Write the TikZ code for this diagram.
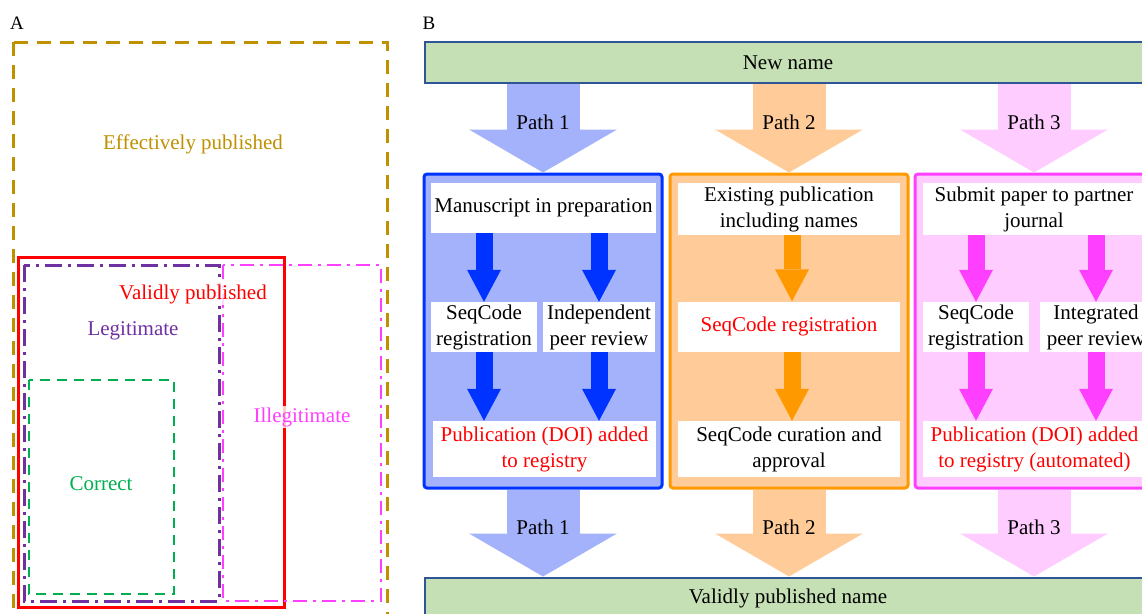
\documentclass[tikz,border=0pt]{standalone}
\usepackage{fontspec}
\setmainfont{Liberation Serif}
\usepackage{xcolor}
\usetikzlibrary{arrows.meta,positioning,calc}
\definecolor{effgold}{HTML}{BF9000}
\definecolor{validred}{HTML}{FF0000}
\definecolor{legitpurple}{HTML}{7030A0}
\definecolor{illegpink}{HTML}{FF3FFF}
\definecolor{correctgreen}{HTML}{00B050}
\definecolor{barblue}{HTML}{2F5597}
\definecolor{bargreen}{HTML}{C5E0B4}
\definecolor{pathblue}{HTML}{0033FF}
\definecolor{softblue}{HTML}{A3B2FA}
\definecolor{pathorange}{HTML}{FF9900}
\definecolor{softorange}{HTML}{FFCC99}
\definecolor{pathpink}{HTML}{FF3FFF}
\definecolor{softpink}{HTML}{FFCCFF}
\tikzset{
    every picture/.style={line join=miter},
    arealine/.style={line width=3pt},
    effarea/.style={arealine,draw=effgold,dash pattern=on 14pt off 9pt},
    validarea/.style={arealine,draw=validred},
    legitarea/.style={arealine,draw=legitpurple,dash pattern=on 17pt off 6pt on 3pt off 6pt},
    illegarea/.style={line width=2.5pt,draw=illegpink,dash pattern=on 14pt off 6pt on 3pt off 6pt},
    correctarea/.style={line width=2.5pt,draw=correctgreen,dash pattern=on 10pt off 7pt},
    arealabel/.style={fill=white,fill opacity=0.8,text opacity=1,inner sep=1pt},
    panelletter/.style={font=\fontsize{19}{21}\selectfont,inner sep=0pt},
    namebar/.style={draw=barblue,fill=bargreen,line width=2pt,
      minimum width=726pt,minimum height=41pt,inner sep=0pt,outer sep=1pt},
    pathbox/.style={line width=3pt,rounded corners=3pt,
      minimum width=238pt,minimum height=314pt,inner sep=0pt},
    stepbox/.style={fill=white,inner sep=1pt,align=center,minimum height=50pt},
    bigarrow/.style={line width=73pt,line cap=butt,
      -{Triangle[length=43pt,width=148pt,line width=0pt]}},
    smallarrow/.style={line width=17pt,line cap=butt,
      -{Triangle[length=32pt,width=34pt,line width=0pt]}},
    pathlabel/.style={text=black,inner sep=0pt}
}
\begin{document}
\begin{tikzpicture}[x=1pt,y=-1pt,font=\fontsize{21}{26}\selectfont]
  \useasboundingbox (0,0) rectangle (1142,613);
  \clip (0,0) rectangle (1142,613);
  % panel A
  \node[panelletter] (labelA) at (17,23) {A};
  \draw[effarea] (13,42) rectangle (387,630);
  \draw[validarea] (18,257) rectangle (284,607);
  \draw[legitarea] (24,265) rectangle (219,601);
  \draw[illegarea] (223,265) rectangle (381,601);
  \draw[correctarea] (29,380) rectangle (174,594);
  \node[arealabel,text=effgold] (efflabel) at (193,144) {Effectively published};
  \node[arealabel,text=validred] (validlabel) at (193,294) {Validly published};
  \node[arealabel,text=legitpurple] (legitlabel) at (133,331) {Legitimate};
  \node[arealabel,text=illegpink] (illeglabel) at (302,417) {Illegitimate};
  \node[arealabel,text=correctgreen] (correctlabel) at (101,484) {Correct};
  % panel B
  \node[panelletter] (labelB) at (429,23) {B};
  \node[namebar] (newname) at (788,62.5) {New name};
  \node[pathbox,draw=pathblue,fill=softblue] (path1) at (543,331) {};
  \node[pathbox,draw=pathorange,fill=softorange] (path2) at (789,331) {};
  \node[pathbox,draw=pathpink,fill=softpink] (path3) at (1034,331) {};
  \node[namebar] (validname) at (788,598) {Validly published name};
  \draw[bigarrow,softblue] (newname.south -| path1.north) -- node[pathlabel,pos=0.43] (p1in) {Path 1} (path1.north);
  \draw[bigarrow,softorange] (newname.south -| path2.north) -- node[pathlabel,pos=0.43] (p2in) {Path 2} (path2.north);
  \draw[bigarrow,softpink] (newname.south -| path3.north) -- node[pathlabel,pos=0.43] (p3in) {Path 3} (path3.north);
  \draw[bigarrow,softblue] (path1.south) -- node[pathlabel,pos=0.43] (p1out) {Path 1} (validname.north -| path1.south);
  \draw[bigarrow,softorange] (path2.south) -- node[pathlabel,pos=0.43] (p2out) {Path 2} (validname.north -| path2.south);
  \draw[bigarrow,softpink] (path3.south) -- node[pathlabel,pos=0.43] (p3out) {Path 3} (validname.north -| path3.south);
  % path 1
  \node[stepbox,minimum width=225pt] (m1) at (543.5,208) {Manuscript in preparation};
  \node[stepbox,minimum width=106pt] (s1) at (484,327) {SeqCode\\registration};
  \node[stepbox,minimum width=112pt] (r1) at (599,327) {Independent\\peer review};
  \node[stepbox,minimum width=223pt,minimum height=56pt,text=validred] (d1) at (544.5,449) {Publication (DOI) added\\to registry};
  \draw[smallarrow,pathblue] (m1.south -| s1.north) -- (s1.north);
  \draw[smallarrow,pathblue] (m1.south -| r1.north) -- (r1.north);
  \draw[smallarrow,pathblue] (s1.south) -- (d1.north -| s1.south);
  \draw[smallarrow,pathblue] (r1.south) -- (d1.north -| r1.south);
  % path 2
  \node[stepbox,minimum width=222pt,minimum height=52pt] (m2) at (789,209) {Existing publication\\including names};
  \node[stepbox,minimum width=222pt,text=validred] (s2) at (789,326.5) {SeqCode registration};
  \node[stepbox,minimum width=222pt,minimum height=56pt] (c2) at (789,449) {SeqCode curation and\\approval};
  \draw[smallarrow,pathorange] ($(m2.south)+(3,0)$) -- ($(s2.north)+(3,0)$);
  \draw[smallarrow,pathorange] ($(s2.south)+(3,0)$) -- ($(c2.north)+(3,0)$);
  % path 3
  \node[stepbox,minimum width=222pt,minimum height=52pt] (m3) at (1034,209) {Submit paper to partner\\journal};
  \node[stepbox,minimum width=106pt] (s3) at (976,327) {SeqCode\\registration};
  \node[stepbox,minimum width=112pt] (r3) at (1096,327) {Integrated\\peer review};
  \node[stepbox,minimum width=223pt,minimum height=56pt,text=validred] (d3) at (1034.5,449) {Publication (DOI) added\\to registry (automated)};
  \draw[smallarrow,pathpink] (m3.south -| s3.north) -- (s3.north);
  \draw[smallarrow,pathpink] (m3.south -| r3.north) -- (r3.north);
  \draw[smallarrow,pathpink] (s3.south) -- (d3.north -| s3.south);
  \draw[smallarrow,pathpink] (r3.south) -- (d3.north -| r3.south);
\end{tikzpicture}
\end{document}
